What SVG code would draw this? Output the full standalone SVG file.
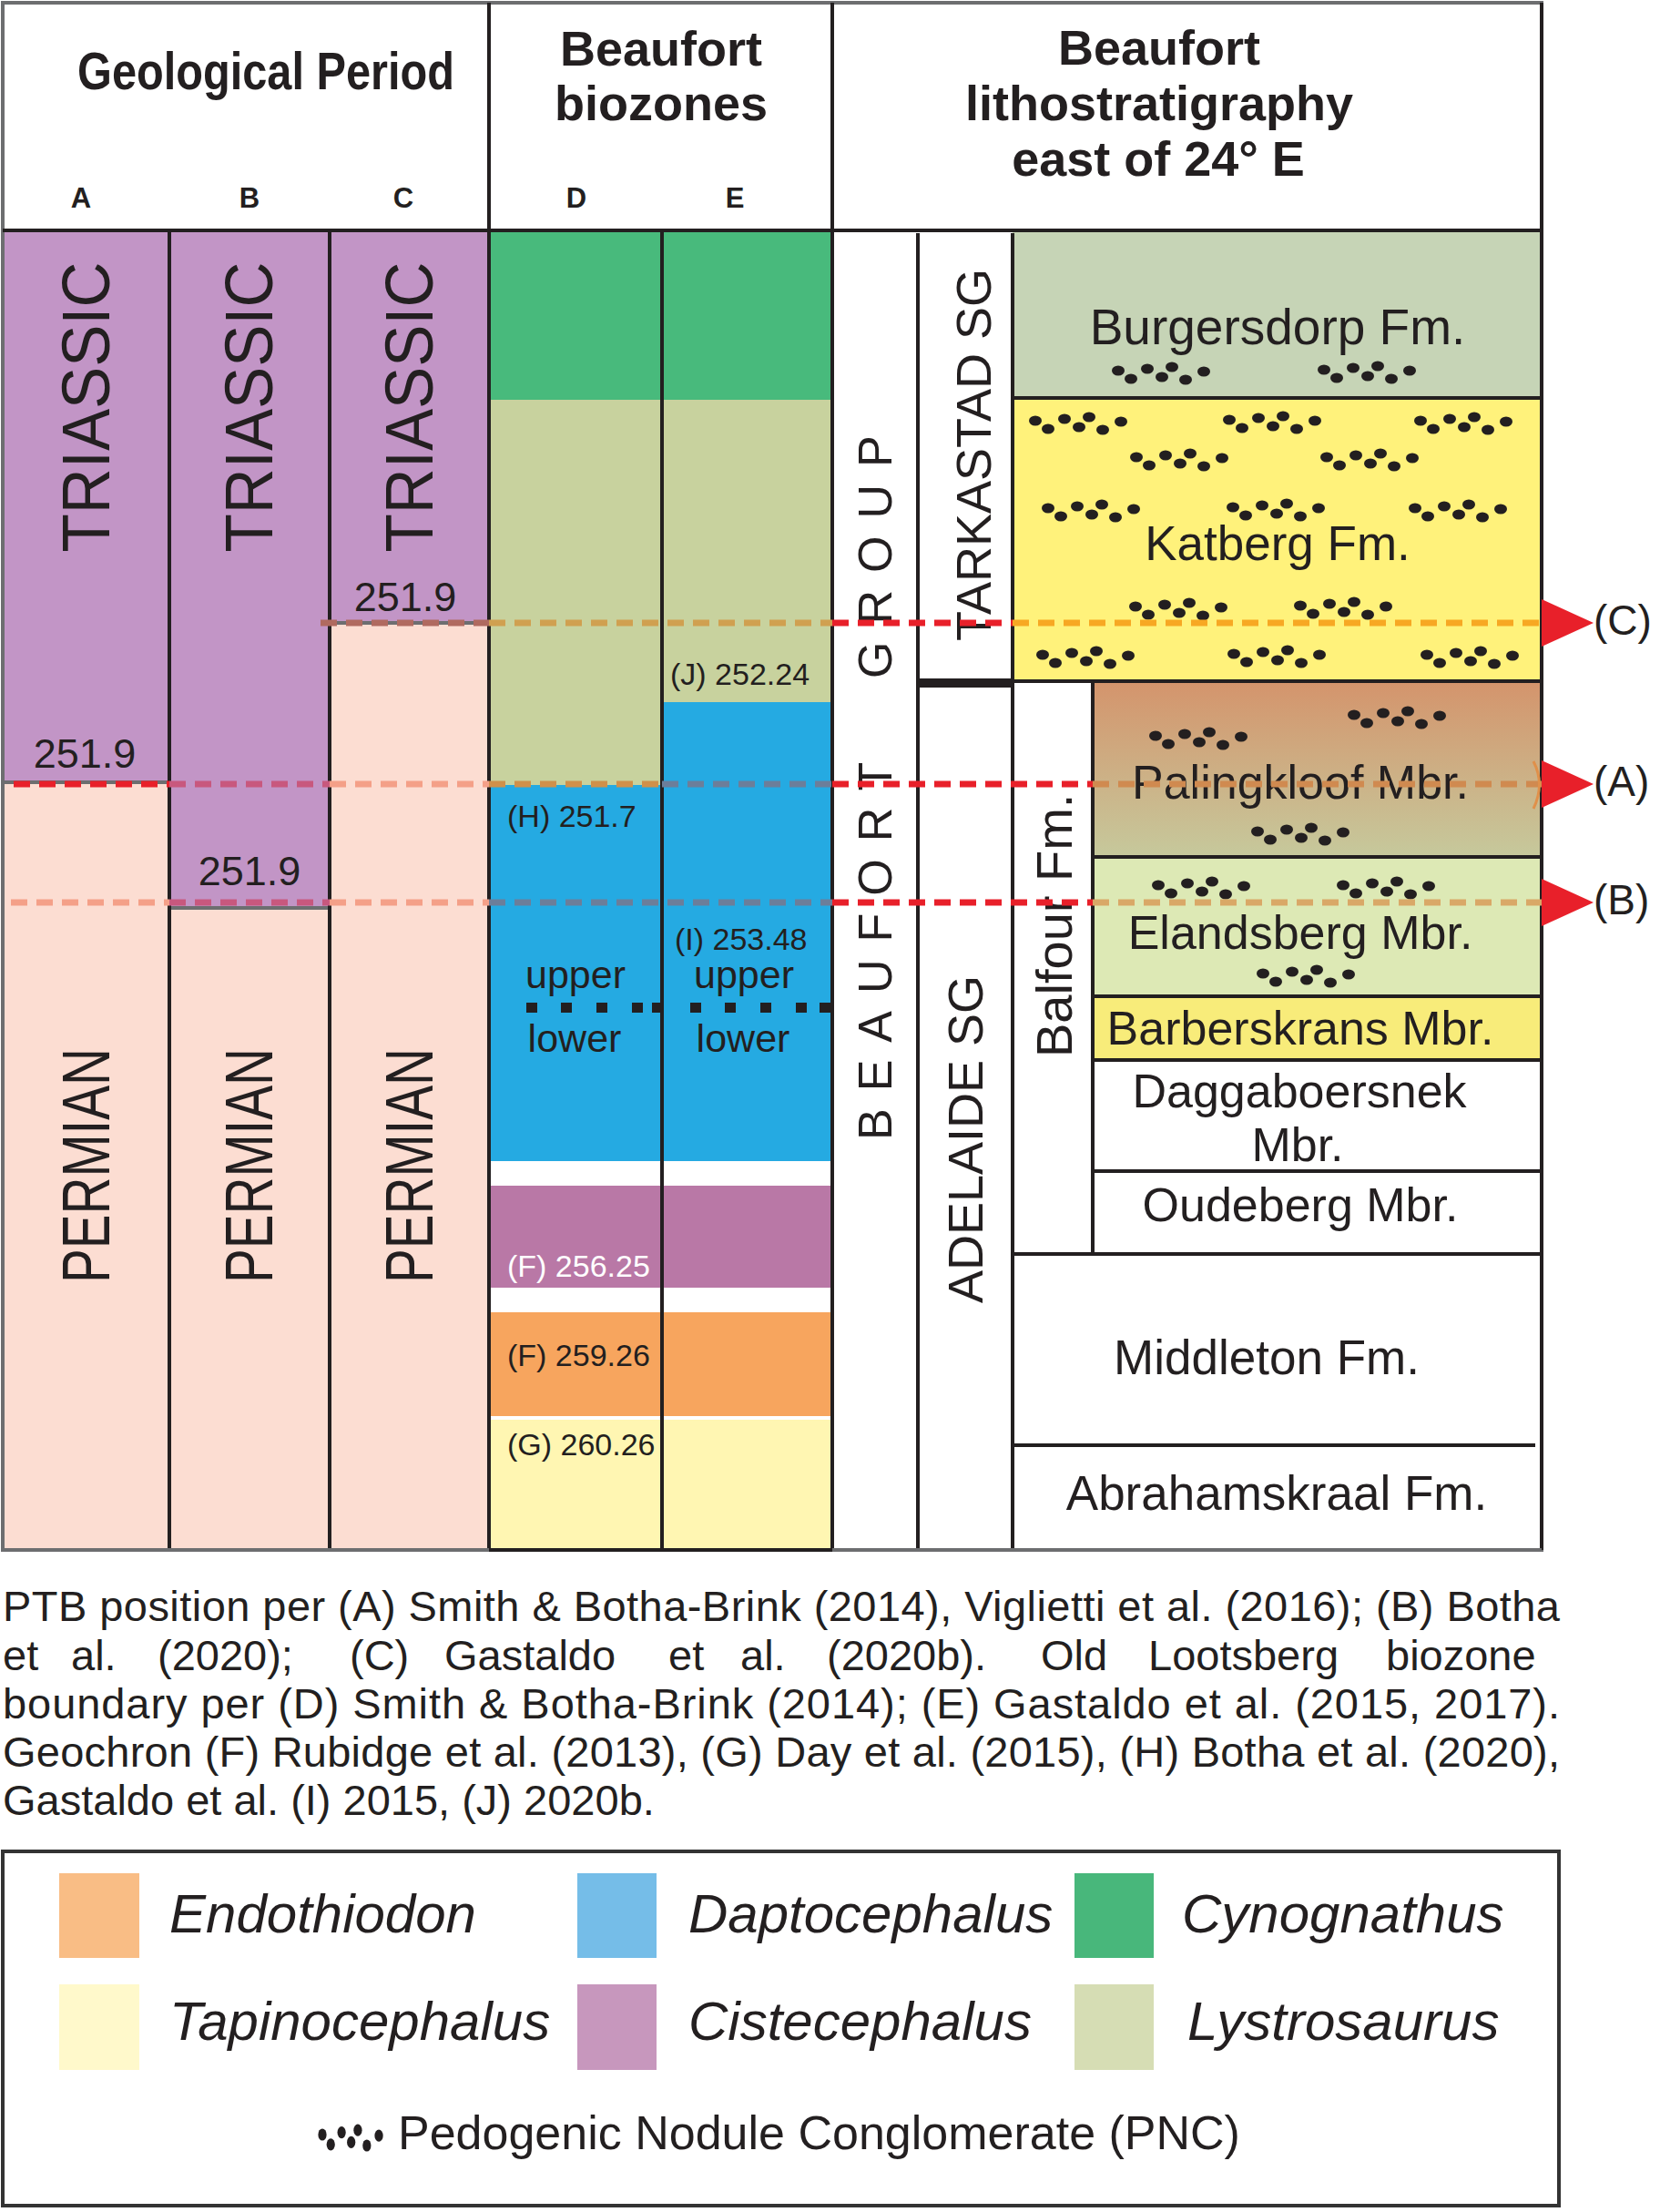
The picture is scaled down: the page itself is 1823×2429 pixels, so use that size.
<svg xmlns="http://www.w3.org/2000/svg" width="1823" height="2429" viewBox="0 0 1823 2429">
<defs>
<style>
text{font-family:"Liberation Sans",Arial,Helvetica,sans-serif;fill:#231f20}
.hb{font-weight:bold;font-size:54px;text-anchor:middle}
.col{font-weight:bold;font-size:31px;text-anchor:middle}
.period{font-size:74px;text-anchor:middle}
.age{font-size:45px;text-anchor:middle}
.geo{font-size:34px}
.zone{font-size:43px;text-anchor:middle}
.unit{font-size:53px;text-anchor:middle}
.vert{font-size:54px}
.note{font-size:47px}
.leg{font-size:60px;font-style:italic}
.ln{stroke:#231f20;stroke-width:4;fill:none}
.gl{stroke:#6d6e70;stroke-width:4;fill:none}
.dash{stroke-width:7;stroke-dasharray:18 10;fill:none}
.arrow{fill:#e8202a}
.lab{font-size:46px}
</style>
<linearGradient id="paling" x1="0" y1="0" x2="0" y2="1">
<stop offset="0" stop-color="#d4946c"/>
<stop offset="1" stop-color="#c6c99c"/>
</linearGradient>
<g id="pnc" fill="#231f20">
<ellipse cx="0" cy="0" rx="7" ry="5.5"/>
<ellipse cx="14" cy="9" rx="7" ry="5.5"/>
<ellipse cx="32" cy="-2" rx="7" ry="5.5"/>
<ellipse cx="48" cy="7" rx="7" ry="5.5"/>
<ellipse cx="59" cy="-4" rx="7" ry="5.5"/>
<ellipse cx="74" cy="10" rx="7" ry="5.5"/>
<ellipse cx="94" cy="1" rx="7" ry="5.5"/>
</g>
</defs>
<rect x="0" y="0" width="1823" height="2429" fill="#ffffff"/>

<g id="header">
<g id="hdr-geological-period"><text x="292" y="98" class="hb" style="font-size:58px" textLength="414" lengthAdjust="spacingAndGlyphs">Geological Period</text></g>
<g id="hdr-biozones"><text x="726" y="72" class="hb">Beaufort</text><text x="726" y="132" class="hb">biozones</text></g>
<g id="hdr-litho"><text x="1273" y="71" class="hb">Beaufort</text><text x="1273" y="132" class="hb">lithostratigraphy</text><text x="1272" y="193" class="hb">east of 24° E</text></g>
<g id="hdr-cols"><text x="89" y="228" class="col">A</text><text x="274" y="228" class="col">B</text><text x="443" y="228" class="col">C</text><text x="633" y="228" class="col">D</text><text x="807" y="228" class="col">E</text></g>
</g>

<g id="col-A">
<rect x="3" y="253" width="183" height="607" fill="#c295c6"/>
<rect x="3" y="860" width="183" height="842" fill="#fcddd2"/>
<line x1="5" y1="859" x2="184" y2="859" class="gl"/>
<text transform="translate(120,447) rotate(-90)" class="period" textLength="319" lengthAdjust="spacingAndGlyphs">TRIASSIC</text>
<text transform="translate(120,1280) rotate(-90)" class="period" textLength="258" lengthAdjust="spacingAndGlyphs">PERMIAN</text>
<text x="93" y="843" class="age">251.9</text>
</g>
<g id="col-B">
<rect x="186" y="253" width="176" height="744" fill="#c295c6"/>
<rect x="186" y="997" width="176" height="705" fill="#fcddd2"/>
<line x1="188" y1="997" x2="360" y2="997" class="gl"/>
<text transform="translate(299,447) rotate(-90)" class="period" textLength="319" lengthAdjust="spacingAndGlyphs">TRIASSIC</text>
<text transform="translate(299,1280) rotate(-90)" class="period" textLength="258" lengthAdjust="spacingAndGlyphs">PERMIAN</text>
<text x="274" y="972" class="age">251.9</text>
</g>
<g id="col-C">
<rect x="362" y="253" width="175" height="431" fill="#c295c6"/>
<rect x="362" y="684" width="175" height="1018" fill="#fcddd2"/>
<line x1="364" y1="684" x2="535" y2="684" class="gl"/>
<text transform="translate(475,447) rotate(-90)" class="period" textLength="319" lengthAdjust="spacingAndGlyphs">TRIASSIC</text>
<text transform="translate(475,1280) rotate(-90)" class="period" textLength="258" lengthAdjust="spacingAndGlyphs">PERMIAN</text>
<text x="445" y="671" class="age">251.9</text>
</g>

<g id="biozone-cynognathus"><rect x="537" y="253" width="377" height="186" fill="#48ba7c"/></g>
<g id="biozone-lystrosaurus"><rect x="537" y="439" width="190" height="423" fill="#c8d29e"/><rect x="727" y="439" width="187" height="332" fill="#c8d29e"/></g>
<g id="biozone-daptocephalus"><rect x="537" y="862" width="190" height="413" fill="#25aae2"/><rect x="727" y="771" width="187" height="504" fill="#25aae2"/></g>
<g id="biozone-cistecephalus"><rect x="537" y="1302" width="377" height="112" fill="#b978a6"/></g>
<g id="biozone-endothiodon"><rect x="537" y="1441" width="377" height="114" fill="#f7a55e"/></g>
<g id="biozone-tapinocephalus"><rect x="537" y="1559" width="377" height="143" fill="#fff6b2"/></g>
<g id="biozone-labels">
<text x="736" y="752" class="geo">(J) 252.24</text>
<text x="557" y="908" class="geo">(H) 251.7</text>
<text x="741" y="1043" class="geo">(I) 253.48</text>
<text x="632" y="1085" class="zone">upper</text><text x="817" y="1085" class="zone">upper</text>
<text x="631" y="1155" class="zone">lower</text><text x="816" y="1155" class="zone">lower</text>
<g fill="#231f20">
<rect x="578" y="1101" width="12" height="11"/><rect x="616" y="1101" width="12" height="11"/><rect x="655" y="1101" width="12" height="11"/><rect x="694" y="1101" width="12" height="11"/><rect x="716" y="1101" width="12" height="11"/>
<rect x="758" y="1101" width="12" height="11"/><rect x="796" y="1101" width="12" height="11"/><rect x="835" y="1101" width="12" height="11"/><rect x="874" y="1101" width="12" height="11"/><rect x="900" y="1101" width="12" height="11"/>
</g>
<text x="557" y="1402" class="geo" style="fill:#ffffff">(F) 256.25</text>
<text x="557" y="1500" class="geo">(F) 259.26</text>
<text x="557" y="1598" class="geo">(G) 260.26</text>
</g>

<g id="beaufort-group"><text transform="translate(979,1252) rotate(-90)" class="vert" style="font-size:52px" letter-spacing="19">BEAUFORT</text><text transform="translate(979,745) rotate(-90)" class="vert" style="font-size:52px" letter-spacing="19">GROUP</text></g>
<g id="tarkastad-sg"><text transform="translate(1088,704) rotate(-90)" class="vert">TARKASTAD SG</text></g>
<g id="adelaide-sg"><text transform="translate(1079,1431) rotate(-90)" class="vert">ADELAIDE SG</text></g>
<g id="balfour-fm"><text transform="translate(1177,1161) rotate(-90)" class="vert" style="font-size:56px">Balfour Fm.</text></g>

<g id="burgersdorp-fm"><rect x="1112" y="253" width="581" height="184" fill="#c6d4b6"/><text x="1403" y="378" class="unit" style="font-size:55px">Burgersdorp Fm.</text><use href="#pnc" x="1228" y="407"/><use href="#pnc" x="1454" y="406"/></g>
<g id="katberg-fm"><rect x="1112" y="437" width="581" height="311" fill="#fff27b"/>
<use href="#pnc" x="1137" y="462"/><use href="#pnc" x="1350" y="461"/><use href="#pnc" x="1560" y="462"/>
<use href="#pnc" x="1248" y="502"/><use href="#pnc" x="1457" y="502"/>
<use href="#pnc" x="1151" y="558"/><use href="#pnc" x="1354" y="557"/><use href="#pnc" x="1554" y="558"/>
<use href="#pnc" x="1247" y="666"/><use href="#pnc" x="1428" y="665"/>
<use href="#pnc" x="1145" y="719"/><use href="#pnc" x="1355" y="718"/><use href="#pnc" x="1567" y="719"/>
<text x="1403" y="615" class="unit">Katberg Fm.</text></g>
<g id="palingkloof-mbr"><rect x="1200" y="748" width="493" height="193" fill="url(#paling)"/><use href="#pnc" x="1487" y="785"/><use href="#pnc" x="1269" y="808"/><use href="#pnc" x="1381" y="913"/><text x="1428" y="877" class="unit" style="font-size:52px">Palingkloof Mbr.</text></g>
<g id="elandsberg-mbr"><rect x="1200" y="941" width="493" height="153" fill="#dde9b5"/><use href="#pnc" x="1272" y="972"/><use href="#pnc" x="1475" y="972"/><use href="#pnc" x="1387" y="1069"/><text x="1428" y="1042" class="unit" style="font-size:52px">Elandsberg Mbr.</text></g>
<g id="barberskrans-mbr"><rect x="1200" y="1094" width="493" height="70" fill="#f8ec7a"/><text x="1428" y="1147" class="unit" style="font-size:52px">Barberskrans Mbr.</text></g>
<g id="daggaboersnek-mbr"><text x="1427" y="1216" class="unit" style="font-size:52px">Daggaboersnek</text><text x="1425" y="1275" class="unit" style="font-size:52px">Mbr.</text></g>
<g id="oudeberg-mbr"><text x="1428" y="1341" class="unit" style="font-size:52px">Oudeberg Mbr.</text></g>
<g id="middleton-fm"><text x="1391" y="1509" class="unit">Middleton Fm.</text></g>
<g id="abrahamskraal-fm"><text x="1402" y="1658" class="unit">Abrahamskraal Fm.</text></g>

<g id="grid">
<rect x="3" y="3" width="1690" height="1699" class="gl"/>
<line x1="3" y1="253" x2="1693" y2="253" class="ln"/>
<line x1="537" y1="3" x2="537" y2="1702" class="ln"/>
<line x1="914" y1="3" x2="914" y2="1702" class="ln"/>
<line x1="186" y1="253" x2="186" y2="1702" class="ln"/>
<line x1="362" y1="253" x2="362" y2="1702" class="ln"/>
<line x1="727" y1="253" x2="727" y2="1702" class="ln"/>
<line x1="1008" y1="256" x2="1008" y2="1702" class="ln"/>
<line x1="1112" y1="256" x2="1112" y2="1702" class="ln"/>
<line x1="1200" y1="748" x2="1200" y2="1377" class="ln"/>
<line x1="1693" y1="3" x2="1693" y2="1702" class="ln"/>
<line x1="1112" y1="437" x2="1693" y2="437" class="ln"/>
<line x1="1008" y1="750" x2="1112" y2="750" stroke="#231f20" stroke-width="10"/>
<line x1="1112" y1="748" x2="1693" y2="748" class="ln"/>
<line x1="1200" y1="941" x2="1693" y2="941" class="ln"/>
<line x1="1200" y1="1094" x2="1693" y2="1094" class="ln"/>
<line x1="1200" y1="1164" x2="1693" y2="1164" class="ln"/>
<line x1="1200" y1="1286" x2="1693" y2="1286" class="ln"/>
<line x1="1112" y1="1377" x2="1693" y2="1377" class="ln"/>
<line x1="1112" y1="1587" x2="1686" y2="1587" class="ln"/>
<line x1="3" y1="1702" x2="1693" y2="1702" class="gl"/>
<line x1="537" y1="1702" x2="914" y2="1702" class="ln"/>
</g>

<g id="connectors">
<line x1="352" y1="684" x2="537" y2="684" class="dash" stroke="#b06a60"/>
<line x1="537" y1="684" x2="914" y2="684" class="dash" stroke="#d0a050"/>
<line x1="914" y1="684" x2="1112" y2="684" class="dash" stroke="#e8202a"/>
<line x1="1112" y1="684" x2="1693" y2="684" class="dash" stroke="#f7a823"/>
<line x1="15" y1="861" x2="186" y2="861" class="dash" stroke="#e8202a"/>
<line x1="186" y1="861" x2="362" y2="861" class="dash" stroke="#c8587e"/>
<line x1="362" y1="861" x2="537" y2="861" class="dash" stroke="#f4a088"/>
<line x1="537" y1="861" x2="727" y2="861" class="dash" stroke="#d0904a"/>
<line x1="727" y1="861" x2="914" y2="861" class="dash" stroke="#6c7e9a"/>
<line x1="914" y1="861" x2="1200" y2="861" class="dash" stroke="#e8202a"/>
<line x1="1200" y1="861" x2="1693" y2="861" class="dash" stroke="#d08a50"/>
<line x1="12" y1="991" x2="186" y2="991" class="dash" stroke="#f4a088"/>
<line x1="186" y1="991" x2="362" y2="991" class="dash" stroke="#c8587e"/>
<line x1="362" y1="991" x2="537" y2="991" class="dash" stroke="#f4a088"/>
<line x1="537" y1="991" x2="914" y2="991" class="dash" stroke="#6c7e9a"/>
<line x1="914" y1="991" x2="1200" y2="991" class="dash" stroke="#e8202a"/>
<line x1="1200" y1="991" x2="1693" y2="991" class="dash" stroke="#d9a867"/>
<path d="M1684,836 Q1697,861 1684,888" fill="none" stroke="#e0904a" stroke-width="3"/>
<polygon points="1693,658 1750,684 1693,710" class="arrow"/>
<polygon points="1693,835 1750,861 1693,887" class="arrow"/>
<polygon points="1693,965 1750,991 1693,1017" class="arrow"/>
<text x="1750" y="697" class="lab">(C)</text>
<text x="1750" y="874" class="lab">(A)</text>
<text x="1750" y="1004" class="lab">(B)</text>
</g>

<g id="caption">
<text x="3" y="1780" class="note" textLength="1710" lengthAdjust="spacing">PTB position per (A) Smith &amp; Botha-Brink (2014), Viglietti et al. (2016); (B) Botha</text>
<text y="1834" class="note"><tspan x="3">et</tspan><tspan x="78">al.</tspan><tspan x="173">(2020);</tspan><tspan x="384">(C)</tspan><tspan x="488">Gastaldo</tspan><tspan x="734">et</tspan><tspan x="813">al.</tspan><tspan x="908">(2020b).</tspan><tspan x="1143">Old</tspan><tspan x="1261">Lootsberg</tspan><tspan x="1522">biozone</tspan></text>
<text x="3" y="1887" class="note" textLength="1710" lengthAdjust="spacing">boundary per (D) Smith &amp; Botha-Brink (2014); (E) Gastaldo et al. (2015, 2017).</text>
<text x="3" y="1940" class="note" textLength="1710" lengthAdjust="spacing">Geochron (F) Rubidge et al. (2013), (G) Day et al. (2015), (H) Botha et al. (2020),</text>
<text x="3" y="1993" class="note">Gastaldo et al. (I) 2015, (J) 2020b.</text>
</g>

<g id="legend">
<rect x="3" y="2033" width="1709" height="389" fill="none" stroke="#333333" stroke-width="4"/>
<g id="leg-endothiodon"><rect x="65" y="2057" width="88" height="93" fill="#f9bd85"/><text x="186" y="2122" class="leg">Endothiodon</text></g>
<g id="leg-daptocephalus"><rect x="634" y="2057" width="87" height="93" fill="#75bde8"/><text x="756" y="2122" class="leg">Daptocephalus</text></g>
<g id="leg-cynognathus"><rect x="1180" y="2057" width="87" height="93" fill="#48b77b"/><text x="1298" y="2122" class="leg">Cynognathus</text></g>
<g id="leg-tapinocephalus"><rect x="65" y="2179" width="88" height="94" fill="#fff9cb"/><text x="186" y="2240" class="leg">Tapinocephalus</text></g>
<g id="leg-cistecephalus"><rect x="634" y="2179" width="87" height="94" fill="#c797bd"/><text x="756" y="2240" class="leg">Cistecephalus</text></g>
<g id="leg-lystrosaurus"><rect x="1180" y="2179" width="87" height="94" fill="#d6ddb4"/><text x="1304" y="2240" class="leg">Lystrosaurus</text></g>
<g id="leg-pnc"><use href="#pnc" transform="translate(354,2344) scale(0.66,1.2)"/><text x="437" y="2360" style="font-size:52px">Pedogenic Nodule Conglomerate (PNC)</text></g>
</g>
</svg>
